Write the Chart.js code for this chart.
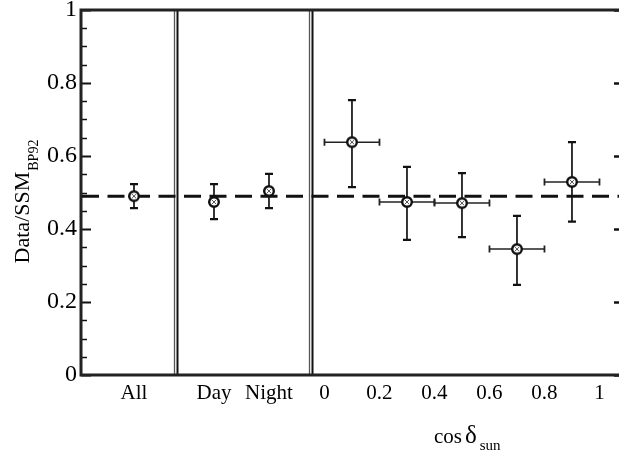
<!DOCTYPE html>
<html>
<head>
<meta charset="utf-8">
<script src="https://cdn.jsdelivr.net/npm/chart.js@4.4.1/dist/chart.umd.min.js"></script>
<style>
  html, body { margin: 0; padding: 0; background: #fff; overflow: hidden; }
  #chart { display: block; }
</style>
</head>
<body>
<canvas id="chart" width="619" height="455"></canvas>
<script>
// whole sample
const overallLabels = ['All']
const overallValues = [0.490]
const overallErrHigh = [0.523]
const overallErrLow = [0.457]

// day / night split
const dayNightLabels = ['Day', 'Night']
const dayNightValues = [0.474, 0.504]
const dayNightErrHigh = [0.523, 0.551]
const dayNightErrLow = [0.427, 0.457]

// bins in cos(delta_sun)
const cosBinCenter = [0.1, 0.3, 0.5, 0.7, 0.9]
const cosBinLow = [0.0, 0.2, 0.4, 0.6, 0.8]
const cosBinHigh = [0.2, 0.4, 0.6, 0.8, 1.0]
const cosValues = [0.638, 0.474, 0.471, 0.345, 0.529]
const cosErrHigh = [0.753, 0.570, 0.553, 0.436, 0.638]
const cosErrLow = [0.515, 0.370, 0.378, 0.247, 0.420]

const cosTicks = [0, 0.2, 0.4, 0.6, 0.8, 1]
const cosTickLabels = ['0', '0.2', '0.4', '0.6', '0.8', '1']
const yTicks = [0, 0.2, 0.4, 0.6, 0.8, 1]
const yTickLabels = ['0', '0.2', '0.4', '0.6', '0.8', '1']

// dashed reference level
const refLine = 0.49

const SERIF = "'Liberation Serif', 'Times New Roman', serif"
Chart.defaults.font.family = SERIF
Chart.defaults.color = '#000'

// circle with a small cross, like the scanned markers
function makeMarker() {
  const c = document.createElement('canvas')
  c.width = 14
  c.height = 14
  const g = c.getContext('2d')
  g.beginPath()
  g.arc(7, 7, 4.8, 0, Math.PI * 2)
  g.fillStyle = '#fff'
  g.fill()
  g.lineWidth = 2.4
  g.strokeStyle = '#111'
  g.stroke()
  g.lineWidth = 1
  g.strokeStyle = '#555'
  g.beginPath()
  g.moveTo(5, 5); g.lineTo(9, 9)
  g.moveTo(9, 5); g.lineTo(5, 9)
  g.stroke()
  return c
}
const marker = makeMarker()

const toPoints = (xs, ys, lo, hi, xlo, xhi) =>
  ys.map((v, i) => ({
    x: xs[i], y: v, yLow: lo[i], yHigh: hi[i],
    xLow: xlo ? xlo[i] : null, xHigh: xhi ? xhi[i] : null
  }))

const fitX = (scale) => {
  scale.height = 80
  scale.paddingLeft = 0
  scale.paddingRight = 0
}

const decor = {
  id: 'decor',
  beforeDatasetsDraw(chart) {
    const { ctx, chartArea: a, scales } = chart
    const y = scales.y
    ctx.save()

    // inward ticks on the left and right
    ctx.strokeStyle = '#111'
    for (let k = 0; k <= 20; k++) {
      const v = k * 0.05
      const py = Math.round(y.getPixelForValue(v)) + 0.5
      const major = k % 4 === 0
      ctx.lineWidth = major ? 2 : 1.5
      ctx.beginPath()
      ctx.moveTo(a.left, py)
      ctx.lineTo(a.left + (major ? 10 : 6), py)
      ctx.stroke()
      if (major) {
        ctx.lineWidth = 2.5
        ctx.beginPath()
        ctx.moveTo(a.right, py)
        ctx.lineTo(a.right - 5, py)
        ctx.stroke()
      }
    }

    // double separators between the panels
    ;[scales.xDN.left, scales.xCos.left].forEach((sx) => {
      ctx.strokeStyle = '#555'
      ctx.lineWidth = 1.3
      ctx.beginPath()
      ctx.moveTo(sx - 1.5, a.top)
      ctx.lineTo(sx - 1.5, a.bottom)
      ctx.stroke()
      ctx.strokeStyle = '#111'
      ctx.lineWidth = 2
      ctx.beginPath()
      ctx.moveTo(sx + 1.5, a.top)
      ctx.lineTo(sx + 1.5, a.bottom)
      ctx.stroke()
    })

    // frame (the right side is cropped off in the original)
    ctx.strokeStyle = '#222'
    ctx.lineWidth = 3
    ctx.beginPath()
    ctx.moveTo(a.right, a.top)
    ctx.lineTo(a.left, a.top)
    ctx.lineTo(a.left, a.bottom)
    ctx.lineTo(a.right, a.bottom)
    ctx.stroke()

    // dashed reference line
    const ry = y.getPixelForValue(refLine)
    ctx.strokeStyle = '#111'
    ctx.lineWidth = 3
    ctx.setLineDash([17, 8.5])
    ctx.beginPath()
    ctx.moveTo(a.left + 1, ry)
    ctx.lineTo(a.right, ry)
    ctx.stroke()
    ctx.setLineDash([])

    // error bars
    chart.data.datasets.forEach((ds, i) => {
      const xs = scales[ds.xAxisID]
      const meta = chart.getDatasetMeta(i)
      meta.data.forEach((pt, j) => {
        const d = ds.data[j]
        const yt = y.getPixelForValue(d.yHigh)
        const yb = y.getPixelForValue(d.yLow)
        ctx.strokeStyle = '#111'
        ctx.lineWidth = 1.7
        ctx.beginPath()
        ctx.moveTo(pt.x, yt)
        ctx.lineTo(pt.x, yb)
        ctx.stroke()
        ctx.lineWidth = 2.2
        ctx.beginPath()
        ctx.moveTo(pt.x - 4, yt); ctx.lineTo(pt.x + 4, yt)
        ctx.moveTo(pt.x - 4, yb); ctx.lineTo(pt.x + 4, yb)
        ctx.stroke()
        if (d.xLow !== null) {
          const xl = xs.getPixelForValue(d.xLow)
          const xr = xs.getPixelForValue(d.xHigh)
          ctx.lineWidth = 1.5
          ctx.strokeStyle = '#222'
          ctx.beginPath()
          ctx.moveTo(xl, pt.y); ctx.lineTo(xr, pt.y)
          ctx.stroke()
          ctx.lineWidth = 1.8
          ctx.beginPath()
          ctx.moveTo(xl, pt.y - 3.5); ctx.lineTo(xl, pt.y + 3.5)
          ctx.moveTo(xr, pt.y - 3.5); ctx.lineTo(xr, pt.y + 3.5)
          ctx.stroke()
        }
      })
    })
    ctx.restore()
  },
  afterDraw(chart) {
    const { ctx } = chart
    ctx.save()
    ctx.fillStyle = '#000'
    ctx.textBaseline = 'alphabetic'
    ctx.textAlign = 'left'

    // y title with subscript, rotated
    const mainFont = '22px ' + SERIF
    const subFont = '14px ' + SERIF
    ctx.font = mainFont
    const wMain = ctx.measureText('Data/SSM').width
    ctx.font = subFont
    const wSub = ctx.measureText('BP92').width
    ctx.translate(29, 202)
    ctx.rotate(-Math.PI / 2)
    const start = -(wMain + wSub) / 2
    ctx.font = mainFont
    ctx.fillText('Data/SSM', start, 0)
    ctx.font = subFont
    ctx.fillText('BP92', start + wMain + 1, 9)
    ctx.setTransform(1, 0, 0, 1, 0, 0)

    // x title: cos delta_sun
    let x = 434
    ctx.font = '21px ' + SERIF
    ctx.fillText('cos', x, 443)
    x += ctx.measureText('cos').width + 3
    ctx.font = '25px ' + SERIF
    ctx.fillText('δ', x, 443)
    x += ctx.measureText('δ').width + 3
    ctx.font = '15px ' + SERIF
    ctx.fillText('sun', x, 450)
    ctx.restore()
  }
}

new Chart(document.getElementById('chart'), {
  type: 'scatter',
  data: {
    datasets: [
      {
        label: 'All',
        xAxisID: 'xAll',
        data: toPoints(overallLabels.map((_, i) => i), overallValues, overallErrLow, overallErrHigh)
      },
      {
        label: 'Day/Night',
        xAxisID: 'xDN',
        data: toPoints(dayNightLabels.map((_, i) => i), dayNightValues, dayNightErrLow, dayNightErrHigh)
      },
      {
        label: 'cos',
        xAxisID: 'xCos',
        data: toPoints(cosBinCenter, cosValues, cosErrLow, cosErrHigh, cosBinLow, cosBinHigh)
      }
    ].map((ds) => Object.assign(ds, {
      pointStyle: marker,
      pointRadius: 7,
      pointHoverRadius: 7
    }))
  },
  options: {
    responsive: false,
    animation: false,
    layout: { autoPadding: false, padding: { left: 0, right: 0, top: 10, bottom: 0 } },
    plugins: {
      legend: { display: false },
      tooltip: { enabled: false }
    },
    scales: {
      y: {
        min: 0,
        max: 1,
        afterBuildTicks: (s) => { s.ticks = yTicks.map((v) => ({ value: v })) },
        afterFit: (s) => { s.width = 81; s.paddingTop = 0; s.paddingBottom = 0 },
        grid: { display: false, drawTicks: false },
        border: { display: false },
        ticks: {
          padding: 4,
          font: { size: 24 },
          callback: (v, i) => yTickLabels[i]
        }
      },
      xAll: {
        type: 'linear',
        position: 'bottom',
        stack: 'x',
        stackWeight: 95,
        min: -0.964,
        max: 0.764,
        afterBuildTicks: (s) => { s.ticks = overallLabels.map((_, i) => ({ value: i })) },
        afterFit: fitX,
        grid: { display: false, drawTicks: false },
        border: { display: false },
        ticks: { padding: 6, font: { size: 21 }, callback: (v, i) => overallLabels[i] }
      },
      xDN: {
        type: 'linear',
        position: 'bottom',
        stack: 'x',
        stackWeight: 135,
        min: -0.691,
        max: 1.764,
        afterBuildTicks: (s) => { s.ticks = dayNightLabels.map((_, i) => ({ value: i })) },
        afterFit: fitX,
        grid: { display: false, drawTicks: false },
        border: { display: false },
        ticks: { padding: 6, font: { size: 21 }, callback: (v, i) => dayNightLabels[i] }
      },
      xCos: {
        type: 'linear',
        position: 'bottom',
        stack: 'x',
        stackWeight: 308,
        min: -0.049,
        max: 1.071,
        afterBuildTicks: (s) => { s.ticks = cosTicks.map((v) => ({ value: v })) },
        afterFit: fitX,
        grid: { display: false, drawTicks: false },
        border: { display: false },
        ticks: { padding: 6, font: { size: 21 }, callback: (v, i) => cosTickLabels[i] }
      }
    }
  },
  plugins: [decor]
})
</script>
</body>
</html>
